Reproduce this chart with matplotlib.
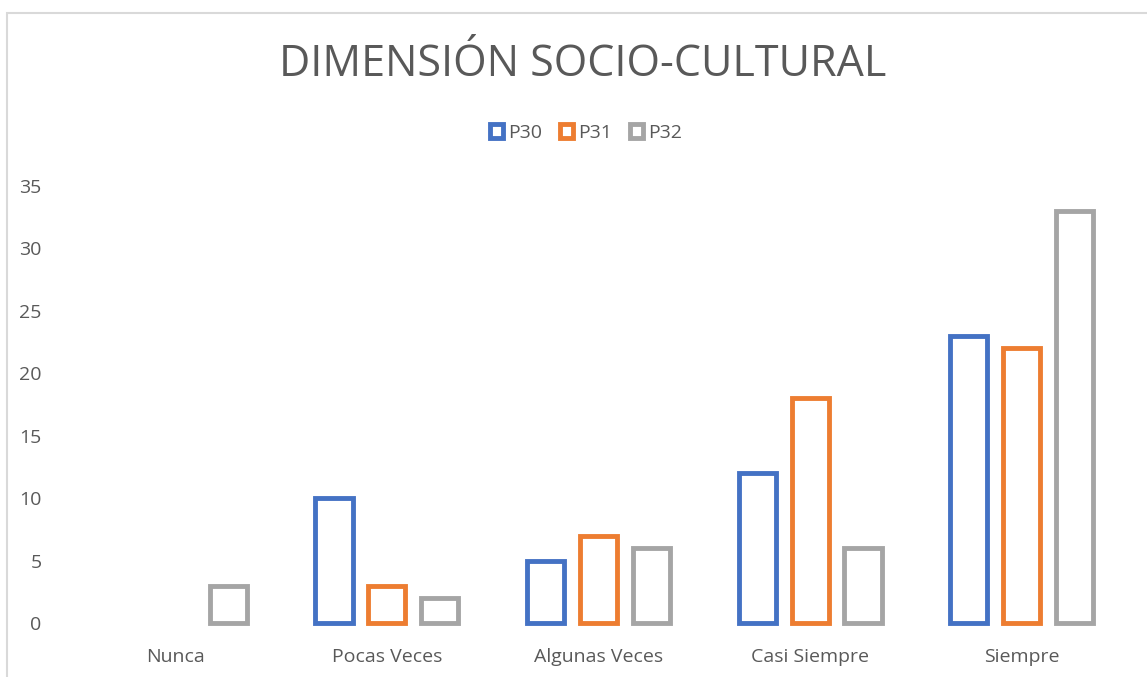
import matplotlib.pyplot as plt
import numpy as np
from matplotlib.patches import Rectangle

# datos
categorias = ["Nunca", "Pocas Veces", "Algunas Veces", "Casi Siempre", "Siempre"]
p30 = [0, 10, 5, 12, 23]
p31 = [0, 3, 7, 18, 22]
p32 = [3, 2, 6, 6, 33]
series = ["P30", "P31", "P32"]
colores = ["#4472c4", "#ed7d31", "#a5a5a5"]

plt.rcParams['font.family'] = ['Open Sans', 'DejaVu Sans']

fig = plt.figure(figsize=(11.47, 6.77), dpi=100)

# borde del area del grafico
W, H = 1147, 677
fig.patches.append(Rectangle((7 / W, -0.1), 1.2, (H - 13) / H + 0.1,
                             transform=fig.transFigure, fill=False,
                             edgecolor="#d9d9d9", linewidth=1.5))

ax = fig.add_axes([69.5 / W, (H - 623) / H, 1058 / W, 437 / H])

x = np.arange(len(categorias))
ancho = 0.175
paso = 0.25
handles = []
for i, (nombre, vals, c) in enumerate(zip(series, [p30, p31, p32], colores)):
    barras = ax.bar(x + (i - 1) * paso, vals, ancho, facecolor="none",
                    edgecolor=c, linewidth=3.5, clip_on=False)
    # las barras con valor 0 no se ven en excel
    for b, v in zip(barras, vals):
        if v == 0:
            b.set_visible(False)
    handles.append(Rectangle((0, 0), 1, 1, facecolor="none", edgecolor=c,
                             linewidth=3.5, label=nombre))

ax.set_xlim(-0.5, len(categorias) - 0.5)
ax.set_ylim(0, 35)
ax.set_yticks(range(0, 36, 5))
ax.set_xticks(x)
ax.set_xticklabels(categorias)
ax.tick_params(axis="both", length=0, labelsize=14, labelcolor="#595959")
ax.tick_params(axis="x", pad=18)
ax.tick_params(axis="y", pad=20)
for s in ax.spines.values():
    s.set_visible(False)

fig.text(583 / W, 1 - 65 / H, "DIMENSIÓN SOCIO-CULTURAL", ha="center",
         va="center", fontsize=31, color="#595959")

fig.legend(handles=handles, loc="center", bbox_to_anchor=(586 / W, 1 - 133 / H),
           ncol=3, frameon=False, fontsize=14, labelcolor="#595959",
           handlelength=0.7, handleheight=0.7, handletextpad=0.25,
           columnspacing=0.9)

fig.savefig("out.png", dpi=100)
